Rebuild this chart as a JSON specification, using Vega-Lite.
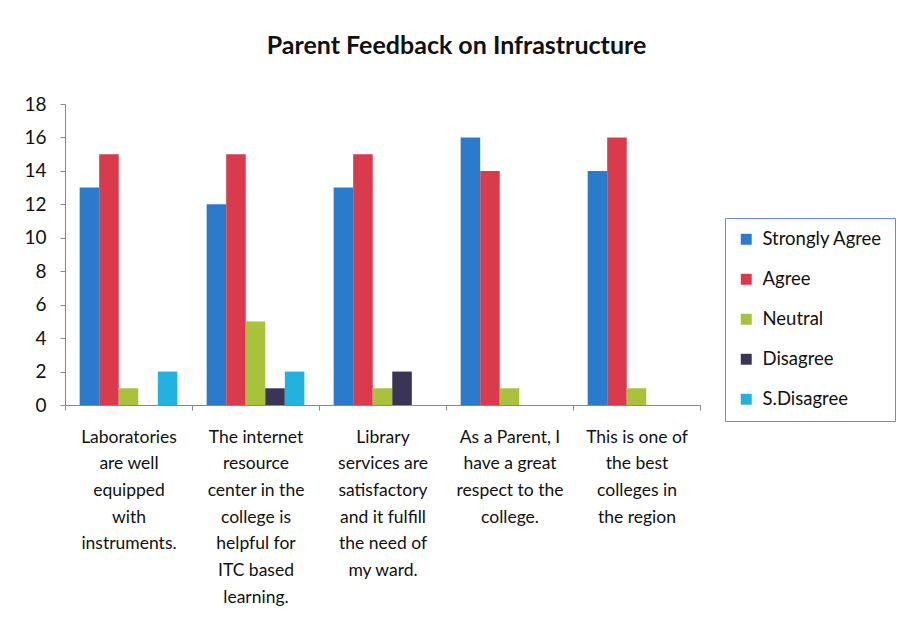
{
  "$schema": "https://vega.github.io/schema/vega-lite/v6.json",
  "width": 635,
  "height": 301,
  "autosize": "none",
  "padding": {"left": 65, "top": 104, "right": 198, "bottom": 221},
  "background": "white",
  "title": {
    "text": "Parent Feedback on Infrastructure",
    "fontSize": 25,
    "font": "Lato",
    "fontWeight": "bold",
    "color": "#111111",
    "anchor": "middle",
    "dx": 74,
    "offset": 36
  },
  "data": {
    "values": [
      {"q": "Laboratories|are well|equipped|with|instruments.", "r": "Strongly Agree", "v": 13},
      {"q": "Laboratories|are well|equipped|with|instruments.", "r": "Agree", "v": 15},
      {"q": "Laboratories|are well|equipped|with|instruments.", "r": "Neutral", "v": 1},
      {"q": "Laboratories|are well|equipped|with|instruments.", "r": "Disagree", "v": 0},
      {"q": "Laboratories|are well|equipped|with|instruments.", "r": "S.Disagree", "v": 2},
      {"q": "The internet|resource|center in the|college is|helpful for|ITC based|learning.", "r": "Strongly Agree", "v": 12},
      {"q": "The internet|resource|center in the|college is|helpful for|ITC based|learning.", "r": "Agree", "v": 15},
      {"q": "The internet|resource|center in the|college is|helpful for|ITC based|learning.", "r": "Neutral", "v": 5},
      {"q": "The internet|resource|center in the|college is|helpful for|ITC based|learning.", "r": "Disagree", "v": 1},
      {"q": "The internet|resource|center in the|college is|helpful for|ITC based|learning.", "r": "S.Disagree", "v": 2},
      {"q": "Library|services are|satisfactory|and it fulfill|the need of|my ward.", "r": "Strongly Agree", "v": 13},
      {"q": "Library|services are|satisfactory|and it fulfill|the need of|my ward.", "r": "Agree", "v": 15},
      {"q": "Library|services are|satisfactory|and it fulfill|the need of|my ward.", "r": "Neutral", "v": 1},
      {"q": "Library|services are|satisfactory|and it fulfill|the need of|my ward.", "r": "Disagree", "v": 2},
      {"q": "Library|services are|satisfactory|and it fulfill|the need of|my ward.", "r": "S.Disagree", "v": 0},
      {"q": "As a Parent, I|have a great|respect to the|college.", "r": "Strongly Agree", "v": 16},
      {"q": "As a Parent, I|have a great|respect to the|college.", "r": "Agree", "v": 14},
      {"q": "As a Parent, I|have a great|respect to the|college.", "r": "Neutral", "v": 1},
      {"q": "As a Parent, I|have a great|respect to the|college.", "r": "Disagree", "v": 0},
      {"q": "As a Parent, I|have a great|respect to the|college.", "r": "S.Disagree", "v": 0},
      {"q": "This is one of|the best|colleges in|the region", "r": "Strongly Agree", "v": 14},
      {"q": "This is one of|the best|colleges in|the region", "r": "Agree", "v": 16},
      {"q": "This is one of|the best|colleges in|the region", "r": "Neutral", "v": 1},
      {"q": "This is one of|the best|colleges in|the region", "r": "Disagree", "v": 0},
      {"q": "This is one of|the best|colleges in|the region", "r": "S.Disagree", "v": 0}
    ]
  },
  "mark": {"type": "bar"},
  "encoding": {
    "x": {
      "field": "q",
      "type": "nominal",
      "sort": null,
      "scale": {"paddingInner": 0, "paddingOuter": 0},
      "axis": {
        "title": null,
        "labelAngle": 0,
        "labelExpr": "split(datum.label, '|')",
        "labelFont": "Lato",
        "labelFontSize": 17.5,
        "labelColor": "#111111",
        "labelLineHeight": 26.7,
        "labelPadding": 18,
        "labelBaseline": "top",
        "tickBand": "extent",
        "tickSize": 5,
        "tickColor": "#888888",
        "domainColor": "#888888",
        "labelLimit": 0
      }
    },
    "xOffset": {
      "field": "r",
      "type": "nominal",
      "sort": ["Strongly Agree", "Agree", "Neutral", "Disagree", "S.Disagree"],
      "scale": {"paddingInner": 0, "paddingOuter": 0.75}
    },
    "y": {
      "field": "v",
      "type": "quantitative",
      "scale": {"domain": [0, 18]},
      "axis": {
        "title": null,
        "values": [0, 2, 4, 6, 8, 10, 12, 14, 16, 18],
        "grid": false,
        "labelFont": "Lato",
        "labelFontSize": 19,
        "labelColor": "#111111",
        "labelPadding": 14,
        "tickSize": 5,
        "tickColor": "#888888",
        "domainColor": "#888888"
      }
    },
    "color": {
      "field": "r",
      "type": "nominal",
      "sort": ["Strongly Agree", "Agree", "Neutral", "Disagree", "S.Disagree"],
      "scale": {
        "domain": ["Strongly Agree", "Agree", "Neutral", "Disagree", "S.Disagree"],
        "range": ["#2b7bcc", "#d93a4c", "#a8c23c", "#3a3456", "#22b2e0"]
      },
      "legend": {
        "title": null,
        "orient": "none",
        "legendX": 660,
        "legendY": 114,
        "symbolType": "square",
        "symbolSize": 120,
        "symbolStrokeWidth": 0,
        "labelFont": "Lato",
        "labelFontSize": 18.5,
        "labelColor": "#111111",
        "labelOffset": 7,
        "rowPadding": 21,
        "padding": 12,
        "strokeColor": "#6d8fbf",
        "fillColor": "white"
      }
    }
  },
  "config": {"view": {"stroke": null}}
}
